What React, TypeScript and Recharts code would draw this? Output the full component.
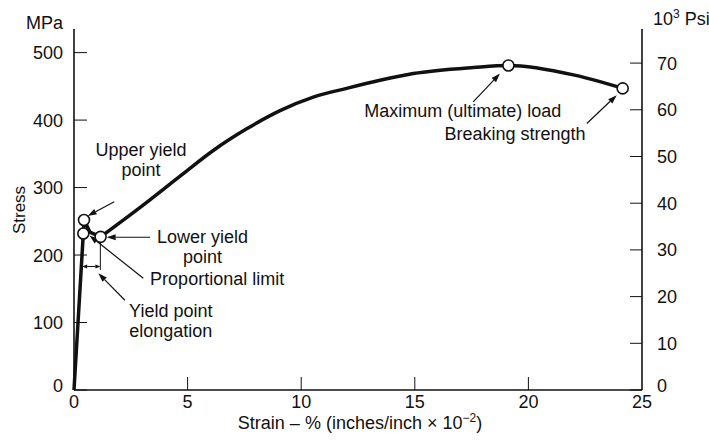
import React from "react";
import {
  ComposedChart,
  Customized,
  Line,
  ReferenceDot,
  ReferenceLine,
  Scatter,
  XAxis,
  YAxis
} from "recharts";

// strain in %, stress in MPa
const yieldRegion = [
  { strain: 0, stress: 0 },
  { strain: 0.41, stress: 232 },
  { strain: 0.44, stress: 252 },
  { strain: 0.7, stress: 234 },
  { strain: 1.17, stress: 227 }
];

const hardening = [
  { strain: 1.17, stress: 227 },
  { strain: 3, stress: 273 },
  { strain: 4.67, stress: 317 },
  { strain: 6.13, stress: 355 },
  { strain: 7.6, stress: 387 },
  { strain: 9.07, stress: 414 },
  { strain: 10.53, stress: 434 },
  { strain: 12, stress: 447 },
  { strain: 13.47, stress: 459 },
  { strain: 14.93, stress: 469 },
  { strain: 17.58, stress: 478 },
  { strain: 19.12, stress: 481 },
  { strain: 21.98, stress: 467 },
  { strain: 23.15, stress: 457 },
  { strain: 24.15, stress: 447 }
];

const keyPoints = [
  { strain: 0.44, stress: 252 },
  { strain: 0.41, stress: 232 },
  { strain: 1.17, stress: 227 },
  { strain: 19.12, stress: 481 },
  { strain: 24.15, stress: 447 }
];

const MPA_PER_KSI = 6.895;

const strainTicks = [0, 5, 10, 15, 20, 25];
const mpaTicks = [0, 100, 200, 300, 400, 500];
const psiTicks = [0, 10, 20, 30, 40, 50, 60, 70];

// [tail, head] in (strain, MPa)
const arrows = [
  [[1.77, 279], [0.6, 258]],
  [[3.35, 226.4], [1.44, 226.4]],
  [[3.05, 165.6], [0.68, 229]],
  [[2.24, 133], [1.07, 173]],
  [[17.57, 427], [18.75, 469]],
  [[22.57, 395], [23.89, 437]]
];

const notes = [
  { strain: 2.95, stress: 347, lines: ["Upper yield", "point"], anchor: "middle" },
  { strain: 5.66, stress: 217.5, lines: ["Lower yield", "point"], anchor: "middle" },
  { strain: 3.35, stress: 155.6, lines: ["Proportional limit"], anchor: "start" },
  { strain: 4.26, stress: 108.7, lines: ["Yield point", "elongation"], anchor: "middle" },
  { strain: 17.11, stress: 404, lines: ["Maximum (ultimate) load"], anchor: "middle" },
  { strain: 19.41, stress: 370.6, lines: ["Breaking strength"], anchor: "middle" }
];

const FONT = "'Liberation Sans', Arial, Helvetica, sans-serif";
const INK = "#111";

function head(x1: number, y1: number, x2: number, y2: number, len: number, half: number) {
  const a = Math.atan2(y2 - y1, x2 - x1);
  const bx = x2 - len * Math.cos(a);
  const by = y2 - len * Math.sin(a);
  const px = -Math.sin(a) * half;
  const py = Math.cos(a) * half;
  return {
    bx,
    by,
    points: `${x2},${y2} ${bx + px},${by + py} ${bx - px},${by - py}`
  };
}

const Arrow = (props: any) => {
  const { x1, y1, x2, y2 } = props;
  const h = head(x1, y1, x2, y2, 9, 3);
  return (
    <g>
      <line x1={x1} y1={y1} x2={h.bx} y2={h.by} stroke={INK} strokeWidth={1.2} />
      <polygon points={h.points} fill={INK} />
    </g>
  );
};

const DoubleArrow = (props: any) => {
  const { x1, y1, x2, y2 } = props;
  const a = head(x1, y1, x2, y2, 5, 2);
  const b = head(x2, y2, x1, y1, 5, 2);
  return (
    <g>
      <line x1={b.bx} y1={b.by} x2={a.bx} y2={a.by} stroke={INK} strokeWidth={1} />
      <polygon points={a.points} fill={INK} />
      <polygon points={b.points} fill={INK} />
    </g>
  );
};

const Thin = (props: any) => {
  const { x1, y1, x2, y2 } = props;
  return <line x1={x1} y1={y1} x2={x2} y2={y2} stroke={INK} strokeWidth={1} />;
};

const noteShape = (lines: string[], anchor: string) => (props: any) => (
  <text x={props.cx} y={props.cy} textAnchor={anchor} fontFamily={FONT} fontSize={18} fill={INK}>
    {lines.map((t, i) => (
      <tspan key={i} x={props.cx} dy={i === 0 ? 0 : 20}>
        {t}
      </tspan>
    ))}
  </text>
);

const LeftTick = (props: any) => {
  const { x, y, payload } = props;
  const ax = x + 11;
  return (
    <g>
      <line x1={ax} y1={y} x2={ax + 13} y2={y} stroke={INK} strokeWidth={1} />
      <text x={x} y={y - (payload.value === 0 ? 4 : 0)} dy="0.36em" textAnchor="end" fontFamily={FONT} fontSize={18} fill={INK}>
        {payload.value}
      </text>
    </g>
  );
};

const RightTick = (props: any) => {
  const { x, y, payload } = props;
  const ax = x - 15;
  return (
    <g>
      <line x1={ax} y1={y} x2={ax - 12} y2={y} stroke={INK} strokeWidth={1} />
      <text x={x} y={y - (payload.value === 0 ? 4 : 0)} dy="0.36em" textAnchor="start" fontFamily={FONT} fontSize={18} fill={INK}>
        {payload.value}
      </text>
    </g>
  );
};

const BottomTick = (props: any) => {
  const { x, y, payload } = props;
  const ay = y - 5;
  return (
    <g>
      {payload.value !== 0 && payload.value !== 25 && (
        <line x1={x} y1={ay} x2={x} y2={ay - 13} stroke={INK} strokeWidth={1} />
      )}
      <text x={x} y={y} dy="0.71em" textAnchor="middle" fontFamily={FONT} fontSize={18} fill={INK}>
        {payload.value}
      </text>
    </g>
  );
};

const Titles = () => (
  <g fontFamily={FONT} fill={INK}>
    <text x={63} y={29} textAnchor="end" fontSize={18}>
      MPa
    </text>
    <text x={653} y={25} textAnchor="start" fontSize={18}>
      10
      <tspan fontSize={12} dy={-7}>3</tspan>
      <tspan dy={7}> Psi</tspan>
    </text>
    <text x={25} y={210} textAnchor="middle" fontSize={17} transform="rotate(-90 25 210)">
      Stress
    </text>
    <text x={360} y={429} textAnchor="middle" fontSize={18}>
      Strain – % (inches/inch × 10
      <tspan fontSize={12} dy={-7}>−2</tspan>
      <tspan dy={7}>)</tspan>
    </text>
  </g>
);

const Marker = (props: any) => (
  <circle cx={props.cx} cy={props.cy} r={5.5} fill="#fff" stroke={INK} strokeWidth={1.6} />
);

export default function App() {
  const ksiPoints = keyPoints.map((p) => ({ strain: p.strain, ksi: p.stress / MPA_PER_KSI }));
  return (
    <div style={{ position: "absolute", left: 0, top: 0, background: "#fff" }}>
      <ComposedChart width={709} height={440} margin={{ top: 29, right: 0, bottom: 0, left: 0 }}>
        <XAxis
          dataKey="strain"
          type="number"
          domain={[0, 25]}
          ticks={strainTicks}
          tickSize={0}
          tickMargin={5}
          tickLine={false}
          tick={BottomTick}
          height={50}
          axisLine={{ stroke: INK, strokeWidth: 1.6 }}
          interval={0}
        />
        <XAxis
          xAxisId="top"
          orientation="top"
          type="number"
          domain={[0, 25]}
          tick={false}
          tickLine={false}
          height={0}
          axisLine={{ stroke: INK, strokeWidth: 1.6 }}
        />
        <YAxis
          dataKey="stress"
          type="number"
          domain={[0, 535]}
          ticks={mpaTicks}
          tickSize={0}
          tickMargin={11}
          tickLine={false}
          tick={LeftTick}
          width={74}
          axisLine={{ stroke: INK, strokeWidth: 1.6 }}
          interval={0}
        />
        <YAxis
          yAxisId="psi"
          orientation="right"
          dataKey="ksi"
          type="number"
          domain={[0, 77.3]}
          allowDataOverflow
          ticks={psiTicks}
          tickSize={0}
          tickMargin={15}
          tickLine={false}
          tick={RightTick}
          width={67}
          axisLine={{ stroke: INK, strokeWidth: 1.6 }}
          interval={0}
        />
        <Line
          yAxisId="psi"
          data={ksiPoints}
          dataKey="ksi"
          stroke="none"
          dot={false}
          activeDot={false}
          isAnimationActive={false}
        />
        <Line
          data={yieldRegion}
          dataKey="stress"
          type="linear"
          stroke={INK}
          strokeWidth={3.5}
          dot={false}
          activeDot={false}
          isAnimationActive={false}
        />
        <Line
          data={hardening}
          dataKey="stress"
          type="monotone"
          stroke={INK}
          strokeWidth={3.5}
          dot={false}
          activeDot={false}
          isAnimationActive={false}
        />
        <ReferenceLine segment={[{ x: 1.16, y: 222 }, { x: 1.16, y: 178 }]} shape={Thin} ifOverflow="visible" />
        <ReferenceLine segment={[{ x: 0.36, y: 183 }, { x: 1.16, y: 183 }]} shape={DoubleArrow} ifOverflow="visible" />
        {arrows.map((a, i) => (
          <ReferenceLine
            key={`a${i}`}
            segment={[
              { x: a[0][0], y: a[0][1] },
              { x: a[1][0], y: a[1][1] }
            ]}
            shape={Arrow}
            ifOverflow="visible"
          />
        ))}
        {notes.map((n, i) => (
          <ReferenceDot
            key={`n${i}`}
            x={n.strain}
            y={n.stress}
            r={0}
            shape={noteShape(n.lines, n.anchor)}
            ifOverflow="visible"
          />
        ))}
        <Scatter data={keyPoints} dataKey="stress" shape={Marker} isAnimationActive={false} />
        <Customized component={Titles} />
      </ComposedChart>
    </div>
  );
}
